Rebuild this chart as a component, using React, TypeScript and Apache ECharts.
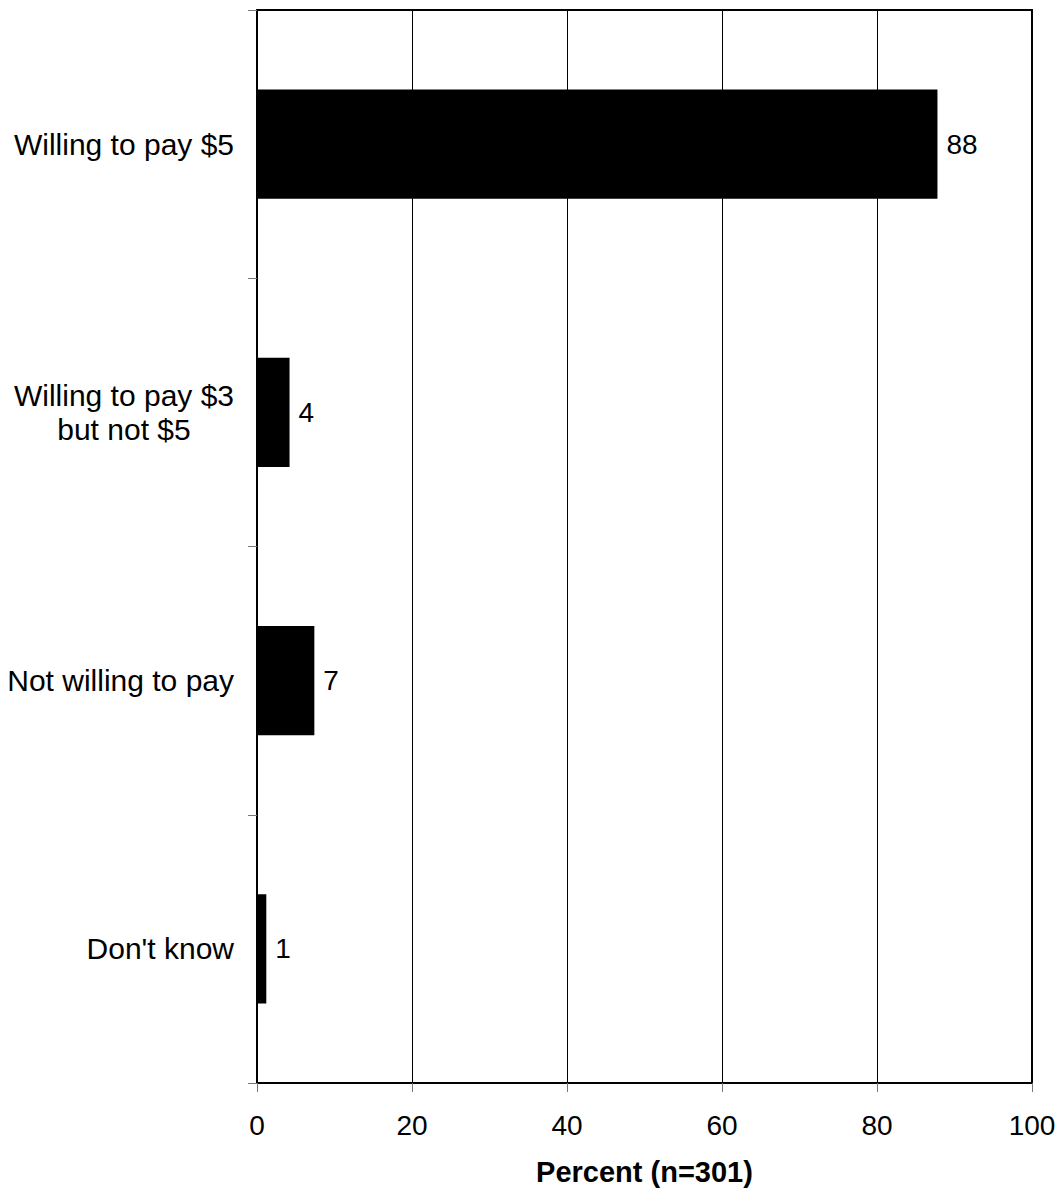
import React, { useEffect, useRef } from "react";
import * as echarts from "echarts";

const categories = [
  "Willing to pay $5",
  "Willing to pay $3\nbut not $5",
  "Not willing to pay",
  "Don't know",
];
const values = [87.8, 4.2, 7.4, 1.2];
const xTicks = [0, 20, 40, 60, 80, 100];
const axisTitle = "Percent (n=301)";

const FONT = "'Liberation Sans', Arial, Helvetica, sans-serif";

export default function App() {
  const ref = useRef<HTMLDivElement>(null);
  useEffect(() => {
    if (!ref.current) return;
    const chart = echarts.init(ref.current, undefined, { renderer: "svg" });
    chart.setOption({
      animation: false,
      backgroundColor: "#ffffff",
      textStyle: { fontFamily: FONT, color: "#000" },
      grid: {
        left: 257,
        top: 10,
        right: 28,
        bottom: 112,
        show: true,
        borderColor: "#000",
        borderWidth: 2,
        backgroundColor: "transparent",
      },
      xAxis: {
        type: "value",
        min: xTicks[0],
        max: xTicks[xTicks.length - 1],
        interval: 20,
        name: axisTitle,
        nameLocation: "middle",
        nameGap: 74,
        nameTextStyle: {
          fontFamily: FONT,
          fontSize: 29,
          fontWeight: "bold",
          color: "#000",
        },
        axisLine: { show: true, lineStyle: { color: "#000", width: 2 } },
        axisTick: {
          show: true,
          length: 9,
          lineStyle: { color: "#777", width: 1 },
        },
        axisLabel: {
          fontFamily: FONT,
          fontSize: 28,
          color: "#000",
          margin: 28,
        },
        splitLine: { show: true, lineStyle: { color: "#000", width: 1 } },
      },
      yAxis: {
        type: "category",
        data: categories,
        inverse: true,
        axisLine: { show: true, lineStyle: { color: "#000", width: 2 } },
        axisTick: {
          show: true,
          length: 9,
          lineStyle: { color: "#777", width: 1 },
        },
        axisLabel: {
          margin: 23,
          formatter: (v: string) =>
            v
              .split("\n")
              .map((l) => `{c|${l}}`)
              .join("\n"),
          rich: {
            c: {
              align: "center",
              fontFamily: FONT,
              fontSize: 30,
              lineHeight: 34,
              color: "#000",
            },
          },
        },
        splitLine: { show: false },
      },
      series: [
        {
          type: "bar",
          data: values,
          barCategoryGap: "59.3%",
          itemStyle: { color: "#000" },
          label: {
            show: true,
            position: "right",
            distance: 9,
            fontFamily: FONT,
            fontSize: 28,
            color: "#000",
            formatter: (p: any) => String(Math.round(p.value)),
          },
        },
      ],
    });
    return () => chart.dispose();
  }, []);
  return (
    <div
      ref={ref}
      style={{
        position: "absolute",
        left: 0,
        top: 0,
        width: 1060,
        height: 1195,
        background: "#fff",
      }}
    />
  );
}
